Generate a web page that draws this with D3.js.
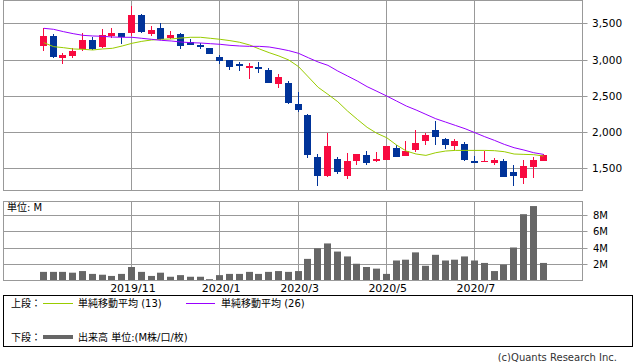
<!DOCTYPE html>
<html lang="ja">
<head>
    <meta charset="UTF-8">
    <title>週足チャート</title>
    <style>
        body {
            margin: 0;
            padding: 0;
            background-color: #ffffff;
        }
        svg {
            display: block;
            font-family: "DejaVu Sans", "Noto Sans CJK JP", sans-serif;
        }
        .grid {
            stroke: #999999;
            stroke-width: 1px;
            fill: none;
        }
        .axis-label {
            fill: #000000;
        }
    </style>
</head>
<body>
    <script src="https://d3js.org/d3.v7.min.js"></script>
    <script>
        // weekly bars (week starting Monday)
        const weeks = [
            "2019-09-02", "2019-09-09", "2019-09-16", "2019-09-23", "2019-09-30", "2019-10-07", "2019-10-14",
            "2019-10-21", "2019-10-28", "2019-11-04", "2019-11-11", "2019-11-18", "2019-11-25", "2019-12-02",
            "2019-12-09", "2019-12-16", "2019-12-23", "2019-12-30", "2020-01-06", "2020-01-13", "2020-01-20",
            "2020-01-27", "2020-02-03", "2020-02-10", "2020-02-17", "2020-02-24", "2020-03-02", "2020-03-09",
            "2020-03-16", "2020-03-23", "2020-03-30", "2020-04-06", "2020-04-13", "2020-04-20", "2020-04-27",
            "2020-05-04", "2020-05-11", "2020-05-18", "2020-05-25", "2020-06-01", "2020-06-08", "2020-06-15",
            "2020-06-22", "2020-06-29", "2020-07-06", "2020-07-13", "2020-07-20", "2020-07-27", "2020-08-03",
            "2020-08-10", "2020-08-17", "2020-08-24"
        ];

        const open = [3192, 3325, 3026, 3054, 3141, 3270, 3178, 3330, 3367, 3371, 3615, 3357, 3436, 3302, 3353, 3242, 3196, 3160,
            3035, 2994, 2939, 2884, 2897, 2856, 2667, 2677, 2387, 2235, 1655, 1393, 1623, 1398, 1605, 1683, 1605, 1619,
            1775, 1665, 1757, 1881, 2028, 1904, 1812, 1835, 1596, 1582, 1577, 1596, 1444, 1370, 1522, 1605];
        const high = [3431, 3353, 3095, 3155, 3367, 3311, 3426, 3436, 3367, 3739, 3629, 3463, 3505, 3390, 3367, 3284, 3224, 3160,
            3058, 2994, 2971, 2953, 2966, 2884, 2801, 2704, 2552, 2249, 1697, 1982, 1651, 1706, 1697, 1738, 1724, 1807,
            1826, 1876, 2028, 1982, 2152, 1918, 1904, 1858, 1674, 1743, 1637, 1628, 1545, 1609, 1655, 1697];
        const low = [3123, 3026, 2943, 3026, 3123, 3132, 3164, 3293, 3219, 3325, 3367, 3330, 3275, 3279, 3150, 3206, 3150, 3081,
            2943, 2861, 2847, 2737, 2819, 2681, 2612, 2391, 2281, 1646, 1260, 1384, 1425, 1356, 1550, 1550, 1591, 1619,
            1660, 1665, 1724, 1826, 1816, 1766, 1757, 1605, 1568, 1582, 1541, 1384, 1260, 1287, 1370, 1596];
        const close = [3325, 3040, 3063, 3118, 3270, 3150, 3339, 3371, 3307, 3615, 3380, 3408, 3288, 3339, 3192, 3206, 3173, 3081,
            2985, 2902, 2916, 2911, 2870, 2681, 2759, 2405, 2309, 1688, 1398, 1807, 1453, 1600, 1697, 1577, 1628, 1807,
            1660, 1743, 1844, 1959, 1936, 1826, 1881, 1619, 1577, 1596, 1610, 1384, 1398, 1531, 1609, 1683];

        // 単純移動平均
        const ma13 = [3233, 3178, 3164, 3146, 3141, 3132, 3146, 3155, 3187, 3224, 3251, 3270, 3279, 3284, 3297, 3307, 3307, 3293,
            3279, 3261, 3238, 3201, 3146, 3095, 3049, 2994, 2902, 2760, 2617, 2520, 2419, 2290, 2175, 2065, 1982, 1922,
            1821, 1738, 1697, 1678, 1715, 1738, 1747, 1747, 1747, 1747, 1743, 1729, 1697, 1692, 1688, 1669];
        const ma26 = [3431, 3417, 3385, 3357, 3334, 3325, 3321, 3311, 3307, 3307, 3293, 3279, 3265, 3256, 3242, 3233, 3228, 3219,
            3210, 3196, 3187, 3182, 3182, 3173, 3150, 3123, 3086, 3025, 2966, 2920, 2842, 2773, 2704, 2626, 2562, 2497,
            2428, 2359, 2304, 2244, 2184, 2138, 2092, 2046, 1991, 1936, 1885, 1830, 1784, 1752, 1715, 1692];

        // 出来高 (M)
        const volume = [1.0, 1.0, 1.0, 0.9, 1.1, 0.75, 0.65, 0.5, 0.75, 1.6, 1.0, 0.5, 0.9, 0.4, 0.6, 0.4, 0.4, 0.1,
            0.6, 0.75, 0.75, 1.0, 0.75, 1.0, 1.1, 1.0, 1.1, 2.6, 3.9, 4.5, 3.5, 2.9, 2.0, 1.6, 1.4, 0.75,
            2.4, 2.5, 3.4, 1.75, 3.1, 2.4, 2.5, 2.9, 2.4, 2.1, 1.1, 1.9, 4.0, 8.1, 9.1, 2.1];

        const monthTicks = ["2019-11-04", "2020-01-06", "2020-03-02", "2020-05-04", "2020-07-06"];
        const priceTicks = [1500, 2000, 2500, 3000, 3500];
        const volumeTicks = [2, 4, 6, 8];

        const width = 638;
        const height = 362;

        const upColor = "#f80a40";
        const downColor = "#003399";

        const svg = d3.select("body")
            .append("svg")
            .attr("width", width)
            .attr("height", height);

        const plotLeft = 3.5, plotRight = 582.5;
        const priceTop = 0.5, priceBottom = 190.5;
        const volTop = 201.5, volBottom = 280.5;

        const x = d3.scalePoint()
            .domain(weeks)
            .range([43.3, 543]);

        const y = d3.scaleLinear()
            .domain([1500, 3500])
            .range([168.3, 23.3]);

        const yv = d3.scaleLinear()
            .domain([0, 8])
            .range([280, 215]);

        const crisp = v => Math.floor(v) + 0.5;

        const label = d => {
            const t = d3.timeParse("%Y-%m-%d")(d);
            return t.getFullYear() + "/" + (t.getMonth() + 1);
        };

        // ---- grids
        const grid = svg.append("g");

        grid.selectAll(".hp")
            .data(priceTicks)
            .enter()
            .append("line")
            .attr("class", "grid")
            .attr("x1", plotLeft)
            .attr("x2", plotRight + 5)
            .attr("y1", d => Math.round(y(d)) + 0.5)
            .attr("y2", d => Math.round(y(d)) + 0.5);

        grid.selectAll(".hv")
            .data(volumeTicks)
            .enter()
            .append("line")
            .attr("class", "grid")
            .attr("x1", plotLeft)
            .attr("x2", plotRight + 5)
            .attr("y1", d => Math.round(yv(d)) + 0.5)
            .attr("y2", d => Math.round(yv(d)) + 0.5);

        [[priceTop, priceBottom], [volTop, volBottom]].forEach(([t, b]) => {
            grid.selectAll(null)
                .data(monthTicks)
                .enter()
                .append("line")
                .attr("class", "grid")
                .attr("x1", d => crisp(x(d)))
                .attr("x2", d => crisp(x(d)))
                .attr("y1", t)
                .attr("y2", b);

            grid.append("rect")
                .attr("class", "grid")
                .attr("x", plotLeft)
                .attr("y", t)
                .attr("width", plotRight - plotLeft)
                .attr("height", b - t);
        });

        // ---- axis labels
        svg.selectAll(".pl")
            .data(priceTicks)
            .enter()
            .append("text")
            .attr("class", "axis-label")
            .attr("x", 592)
            .attr("y", d => Math.round(y(d)) + 4)
            .attr("font-size", "10.5px")
            .text(d => d3.format(",")(d));

        svg.selectAll(".vl")
            .data(volumeTicks)
            .enter()
            .append("text")
            .attr("class", "axis-label")
            .attr("x", 593)
            .attr("y", d => Math.round(yv(d)) + 4)
            .attr("font-size", "10px")
            .text(d => d + "M");

        svg.selectAll(".ml")
            .data(monthTicks)
            .enter()
            .append("text")
            .attr("class", "axis-label")
            .attr("x", d => x(d) + 1.5)
            .attr("y", 292)
            .attr("text-anchor", "middle")
            .attr("font-size", "11px")
            .text(label);

        svg.append("text")
            .attr("x", 7)
            .attr("y", 210.5)
            .attr("font-size", "10px")
            .text("単位: M");

        // ---- volume bars
        svg.append("g")
            .selectAll("rect")
            .data(weeks)
            .enter()
            .append("rect")
            .attr("x", d => Math.floor(x(d)) - 3)
            .attr("width", 7)
            .attr("y", (d, i) => yv(volume[i]))
            .attr("height", (d, i) => 280 - yv(volume[i]))
            .attr("fill", "#666666");

        // ---- candles
        const candle = svg.append("g")
            .selectAll("g")
            .data(weeks)
            .enter()
            .append("g");

        const colorOf = i => close[i] >= open[i] ? upColor : downColor;

        candle.append("line")
            .attr("x1", d => crisp(x(d)))
            .attr("x2", d => crisp(x(d)))
            .attr("y1", (d, i) => Math.round(y(high[i])))
            .attr("y2", (d, i) => Math.round(y(low[i])))
            .attr("stroke", (d, i) => colorOf(i))
            .attr("stroke-width", 1);

        candle.append("rect")
            .attr("x", d => Math.floor(x(d)) - 3)
            .attr("width", 7)
            .attr("y", (d, i) => Math.round(y(Math.max(open[i], close[i]))))
            .attr("height", (d, i) => Math.max(1, Math.round(y(Math.min(open[i], close[i]))) - Math.round(y(Math.max(open[i], close[i])))))
            .attr("fill", (d, i) => colorOf(i));

        // ---- moving averages
        const line = series => d3.line()
            .x(d => x(d) + 0.5)
            .y((d, i) => y(series[i]))(weeks);

        svg.append("path")
            .attr("d", line(ma13))
            .attr("fill", "none")
            .attr("stroke", "#99cc00")
            .attr("stroke-width", 1);

        svg.append("path")
            .attr("d", line(ma26))
            .attr("fill", "none")
            .attr("stroke", "#9900ff")
            .attr("stroke-width", 1);

        // ---- legend
        const legend = svg.append("g")
            .attr("font-size", "10px");

        legend.append("rect")
            .attr("x", 3.5)
            .attr("y", 295.5)
            .attr("width", 629)
            .attr("height", 51)
            .attr("fill", "none")
            .attr("stroke", "#000000");

        legend.append("text").attr("x", 11).attr("y", 307).text("上段：");
        legend.append("line")
            .attr("x1", 43).attr("x2", 73).attr("y1", 303.5).attr("y2", 303.5)
            .attr("stroke", "#99cc00");
        legend.append("text").attr("x", 78).attr("y", 307).text("単純移動平均 (13)");
        legend.append("line")
            .attr("x1", 186).attr("x2", 215).attr("y1", 303.5).attr("y2", 303.5)
            .attr("stroke", "#9900ff");
        legend.append("text").attr("x", 221).attr("y", 307).text("単純移動平均 (26)");

        legend.append("text").attr("x", 11).attr("y", 340.5).text("下段：");
        legend.append("line")
            .attr("x1", 43).attr("x2", 73).attr("y1", 337).attr("y2", 337)
            .attr("stroke", "#666666")
            .attr("stroke-width", 4);
        legend.append("text").attr("x", 78).attr("y", 340.5).text("出来高 単位:(M株/口/枚)");

        svg.append("text")
            .attr("x", 617)
            .attr("y", 361)
            .attr("text-anchor", "end")
            .attr("font-size", "10px")
            .attr("fill", "#333333")
            .text("(c)Quants Research Inc.");
    </script>
</body>
</html>
